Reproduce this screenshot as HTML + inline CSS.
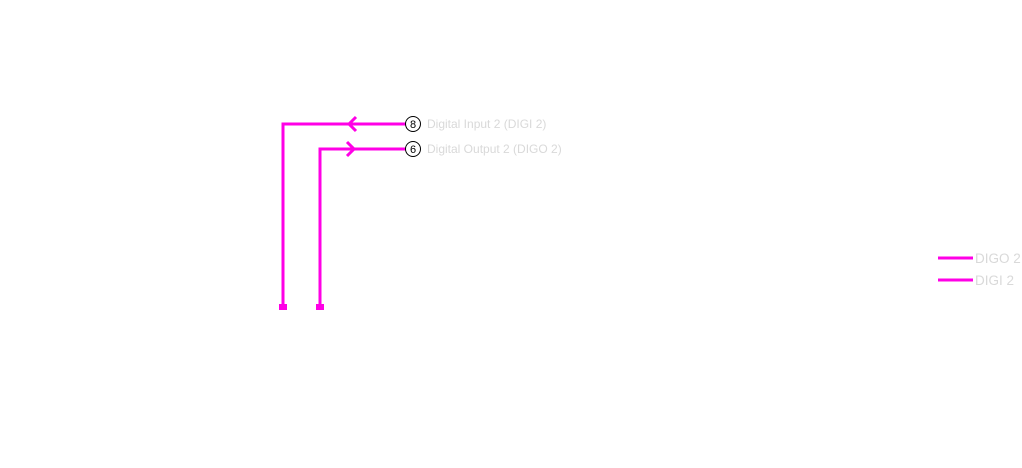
<!DOCTYPE html>
<html><head><style>body{margin:0;background:#fff}svg{display:block}</style></head>
<body>
<svg width="1022" height="468" xmlns="http://www.w3.org/2000/svg" font-family="Liberation Sans, sans-serif">
<g stroke="#ff00e6" stroke-width="3" fill="none">
<polyline points="283,306 283,124 406,124"/>
<polyline points="320,306 320,149 406,149"/>
<polyline points="356,117 349,124 356,131"/>
<polyline points="347,142 354,149 347,156"/>
<line x1="938" y1="258" x2="973" y2="258"/>
<line x1="938" y1="280" x2="973" y2="280"/>
</g>
<rect x="279" y="304" width="8" height="6" fill="#ff00e6"/>
<rect x="316" y="304" width="8" height="6" fill="#ff00e6"/>
<circle cx="413" cy="124" r="7.5" fill="#fff" stroke="#000" stroke-width="1"/>
<circle cx="413" cy="149" r="7.5" fill="#fff" stroke="#000" stroke-width="1"/>
<text x="413" y="128" font-size="11" text-anchor="middle">8</text>
<text x="413" y="153" font-size="11" text-anchor="middle">6</text>
<g fill="#d9d9d9" font-size="12">
<text x="427" y="128">Digital Input 2 (DIGI 2)</text>
<text x="427" y="153">Digital Output 2 (DIGO 2)</text>
<text x="975" y="263" font-size="13.5">DIGO 2</text>
<text x="975" y="285" font-size="13.5">DIGI 2</text>
</g>
</svg>
</body></html>
